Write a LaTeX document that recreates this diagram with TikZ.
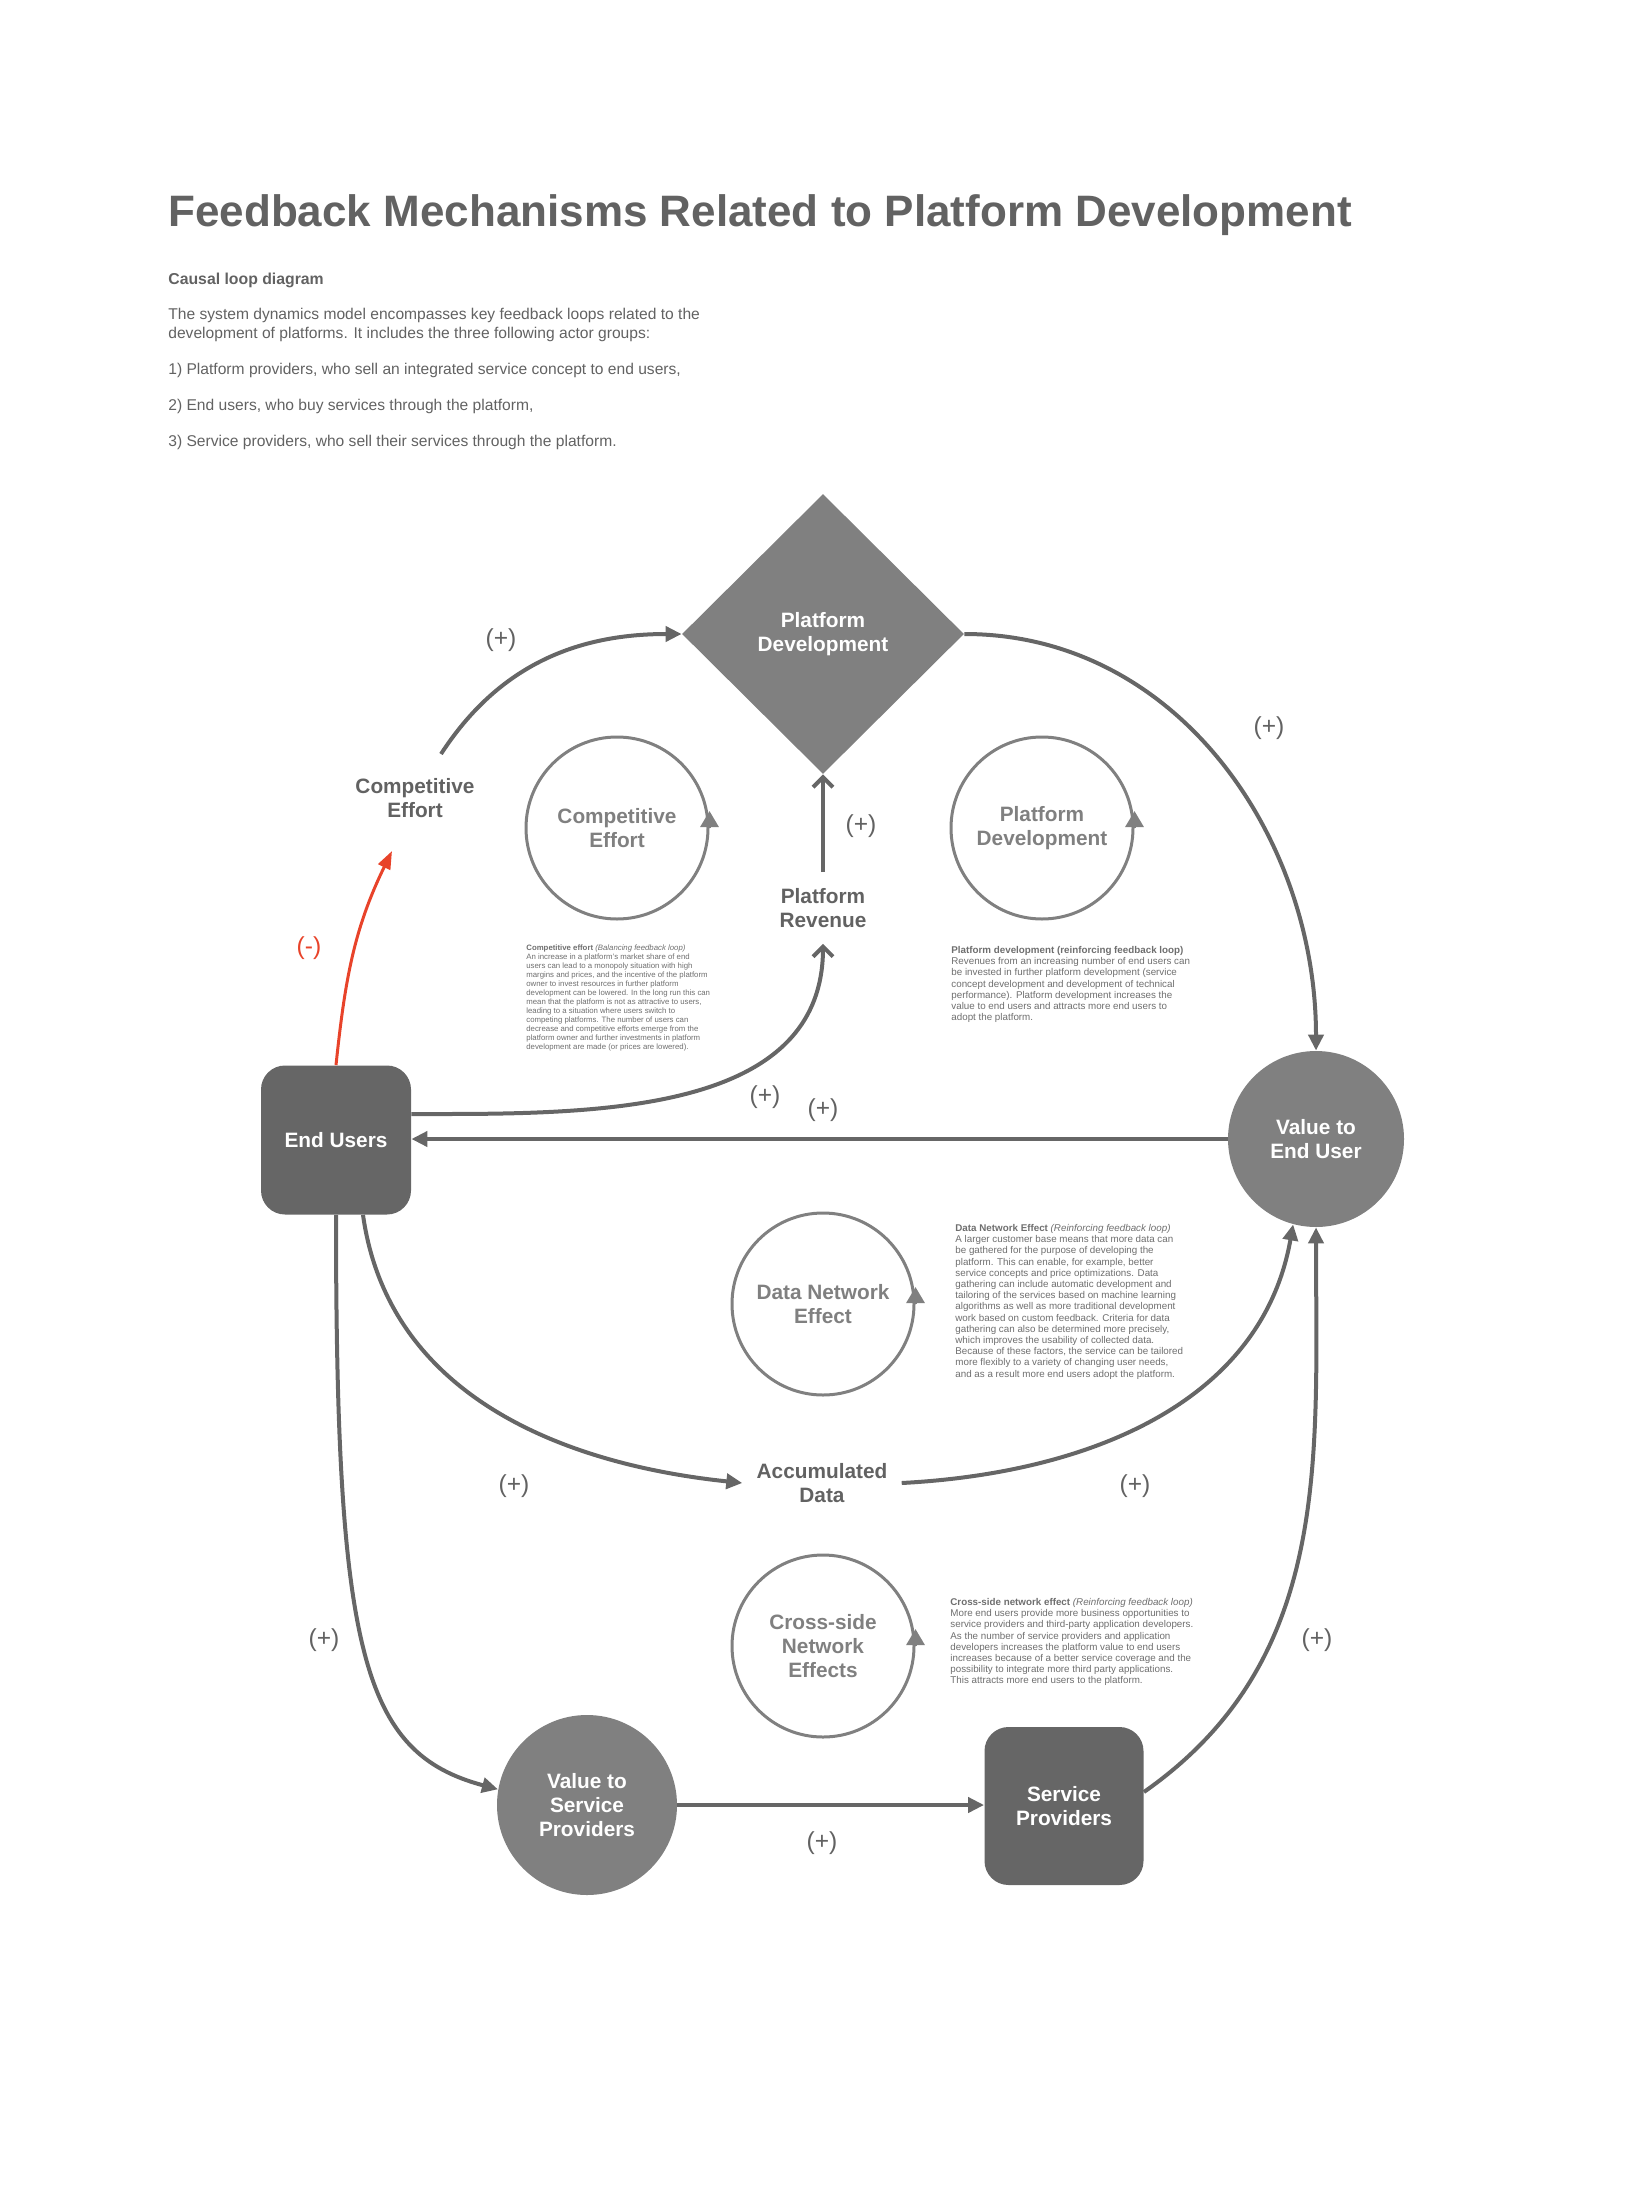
\documentclass[tikz,border=0pt]{standalone}
\usepackage{fontspec}
\setmainfont{Liberation Sans}
\usetikzlibrary{shapes.geometric, arrows.meta, positioning, calc}

\definecolor{boxgrey}{HTML}{666666}
\definecolor{shapegrey}{HTML}{808080}
\definecolor{linegrey}{HTML}{666666}
\definecolor{textgrey}{HTML}{626262}
\definecolor{notegrey}{HTML}{6E6E6E}
\definecolor{signred}{HTML}{E8432A}

\newcommand{\varfont}{\bfseries\fontsize{10.4}{11.8}\selectfont}

\begin{document}
\begin{tikzpicture}[x=0.5pt, y=0.5pt,
  actor/.style={rectangle, rounded corners=12pt, fill=boxgrey, text=white, font=\varfont, align=center, inner sep=0pt},
  valuenode/.style={circle, fill=shapegrey, text=white, font=\varfont, align=center, inner sep=0pt},
  varlabel/.style={text=textgrey, font=\varfont, align=center, inner sep=2pt},
  sign/.style={text=textgrey, font=\fontsize{12.3}{14}\selectfont, inner sep=0pt},
  loopring/.style={circle, draw=shapegrey, line width=1.5pt, minimum size=91pt, inner sep=0pt, text=shapegrey, font=\varfont, align=center},
  loophead/.style={draw=shapegrey, line width=1.5pt, -{Triangle[length=8pt,width=9pt]}},
  link/.style={draw=linegrey, line width=2pt, -{Triangle[length=8pt,width=7.5pt]}},
  revlink/.style={draw=linegrey, line width=2pt, -{Straight Barb[length=5pt,width=10pt]}},
  note/.style={anchor=north west, inner sep=0pt, align=left, text=notegrey}
]
\useasboundingbox (0,0) rectangle (1642,-2188);

% Heading and introduction
\node[anchor=base west, inner sep=0pt, text=textgrey, font=\bfseries\fontsize{22}{26}\selectfont] (title) at (168,-227) {Feedback Mechanisms Related to Platform Development};
\node[anchor=base west, inner sep=0pt, text=textgrey, font=\bfseries\fontsize{7.9}{9.5}\selectfont] (sub) at (168,-285) {Causal loop diagram};
\node[anchor=north west, inner sep=0pt, text=textgrey, font=\fontsize{7.8}{9.5}\selectfont, align=left] (intro) at (168,-307.5) {The system dynamics model encompasses key feedback loops related to the\\development of platforms. It includes the three following actor groups:};
\node[anchor=base west, inner sep=0pt, text=textgrey, font=\fontsize{7.8}{9.5}\selectfont] (g1) at (168,-374) {1) Platform providers, who sell an integrated service concept to end users,};
\node[anchor=base west, inner sep=0pt, text=textgrey, font=\fontsize{7.8}{9.5}\selectfont] (g2) at (168,-410) {2) End users, who buy services through the platform,};
\node[anchor=base west, inner sep=0pt, text=textgrey, font=\fontsize{7.8}{9.5}\selectfont] (g3) at (168,-446) {3) Service providers, who sell their services through the platform.};

% Main variables
\node[diamond, fill=shapegrey, minimum width=141pt, minimum height=140pt, inner sep=0pt, text=white, font=\varfont, align=center] (pdev) at (823,-634) {Platform\\Development};
\node[actor, minimum width=75pt, minimum height=74.5pt] (endu) at (336,-1140) {End Users};
\node[valuenode, minimum size=88pt] (veu) at (1316,-1139) {Value to\\End User};
\node[valuenode, minimum size=90pt] (vsp) at (587,-1805) {Value to\\Service\\Providers};
\node[actor, minimum width=79.5pt, minimum height=79pt] (spro) at (1064,-1806) {Service\\Providers};

\node[varlabel] (celab) at (415,-798) {Competitive\\Effort};
\node[varlabel] (prev) at (823,-908) {Platform\\Revenue};
\node[varlabel] (accd) at (822,-1483) {Accumulated\\Data};

% Loop markers
\node[loopring] (celoop) at (617,-828) {Competitive\\Effort};
\node[loopring] (pdloop) at (1042,-828) {Platform\\Development};
\node[loopring] (dnloop) at (823,-1304) {Data Network\\Effect};
\node[loopring] (csloop) at (823,-1646) {Cross-side\\Network\\Effects};
\draw[loophead] (celoop.east) -- ++(0,17);
\draw[loophead] (pdloop.east) -- ++(0,17);
\draw[loophead] (dnloop.east) -- ++(0,17);
\draw[loophead] (csloop.east) -- ++(0,17);

% Causal links
\coordinate (cetail) at (441,-754);
\coordinate (redtip) at (392,-851);
\draw[link] (cetail) to[out=57, in=180] (pdev.west);
\draw[link] (pdev.east) to[out=0, in=90] (veu.north);
\draw[link, draw=signred, line width=1.5pt, -{Triangle[length=9pt,width=6.5pt]}] (endu.north) to[out=84, in=-116] (redtip);
\draw[revlink] ([shift={(0,26)}]endu.east) to[out=0, in=-90] ([yshift=-6pt]prev.south);
\draw[revlink] ([yshift=6pt]prev.north) -- (pdev.south);
\draw[link] (veu.west) -- (veu.west -| endu.east);
\draw[link] ([shift={(27,0)}]endu.south) to[out=-82, in=174] ([xshift=-5pt]accd.west);
\draw[link] ([xshift=5pt]accd.east) to[out=3, in=-100] (veu.-105);
\draw[link] (endu.south) to[out=-90, in=165, out distance=220pt, in distance=70pt] (vsp.170);
\draw[link] (vsp.east) -- (vsp.east -| spro.west);
\draw[link] ([shift={(0,14)}]spro.east) to[out=35, in=-90] (veu.south);

% Polarity signs
\node[sign] (s1) at (501,-640) {(+)};
\node[sign] (s2) at (1269,-728) {(+)};
\node[sign] (s3) at (861,-826) {(+)};
\node[sign] (s4) at (765,-1097) {(+)};
\node[sign] (s5) at (823,-1110) {(+)};
\node[sign] (s6) at (514,-1486) {(+)};
\node[sign] (s7) at (1135,-1486) {(+)};
\node[sign] (s8) at (324,-1640) {(+)};
\node[sign] (s9) at (822,-1843) {(+)};
\node[sign] (s10) at (1317,-1640) {(+)};
\node[sign, text=signred] (sneg) at (309,-948) {(-)};

% Loop descriptions
\node[note, font=\fontsize{3.9}{4.5}\selectfont] (cenote) at (526,-944) {\textbf{Competitive effort} \textit{(Balancing feedback loop)}\\
An increase in a platform's market share of end\\
users can lead to a monopoly situation with high\\
margins and prices, and the incentive of the platform\\
owner to invest resources in further platform\\
development can be lowered. In the long run this can\\
mean that the platform is not as attractive to users,\\
leading to a situation where users switch to\\
competing platforms. The number of users can\\
decrease and competitive efforts emerge from the\\
platform owner and further investments in platform\\
development are made (or prices are lowered).};
\node[note, font=\fontsize{4.9}{5.6}\selectfont] (pdnote) at (951,-946) {\textbf{Platform development (reinforcing feedback loop)}\\
Revenues from an increasing number of end users can\\
be invested in further platform development (service\\
concept development and development of technical\\
performance). Platform development increases the\\
value to end users and attracts more end users to\\
adopt the platform.};
\node[note, font=\fontsize{4.9}{5.6}\selectfont] (dnnote) at (955,-1224) {\textbf{Data Network Effect} \textit{(Reinforcing feedback loop)}\\
A larger customer base means that more data can\\
be gathered for the purpose of developing the\\
platform. This can enable, for example, better\\
service concepts and price optimizations. Data\\
gathering can include automatic development and\\
tailoring of the services based on machine learning\\
algorithms as well as more traditional development\\
work based on custom feedback. Criteria for data\\
gathering can also be determined more precisely,\\
which improves the usability of collected data.\\
Because of these factors, the service can be tailored\\
more flexibly to a variety of changing user needs,\\
and as a result more end users adopt the platform.};
\node[note, font=\fontsize{4.9}{5.6}\selectfont] (csnote) at (950,-1598) {\textbf{Cross-side network effect} \textit{(Reinforcing feedback loop)}\\
More end users provide more business opportunities to\\
service providers and third-party application developers.\\
As the number of service providers and application\\
developers increases the platform value to end users\\
increases because of a better service coverage and the\\
possibility to integrate more third party applications.\\
This attracts more end users to the platform.};
\end{tikzpicture}
\end{document}
